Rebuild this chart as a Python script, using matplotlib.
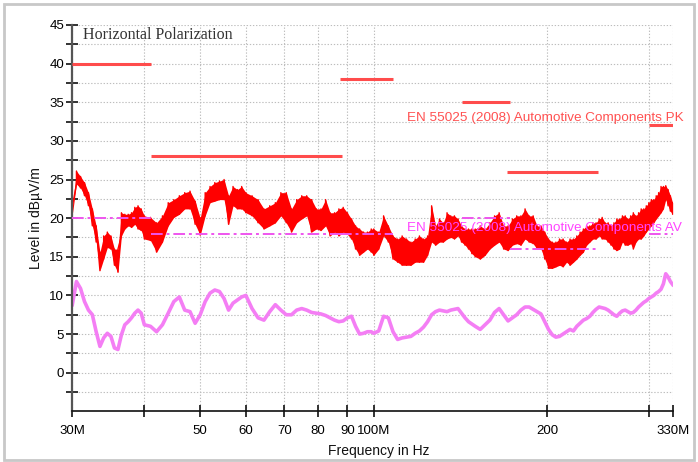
import matplotlib
matplotlib.use("Agg")
import matplotlib.pyplot as plt
from matplotlib.patches import Rectangle
from matplotlib.ticker import FixedLocator, NullLocator

# ---- measurement sweep (MHz) ----
freq_mhz = [30, 30.5, 31, 31.5, 32, 32.5, 33, 33.5, 34, 34.5, 35, 35.5, 36, 36.5, 37, 37.5,
            38, 38.5, 39, 39.5, 40,
            41, 42, 43, 44, 45, 46, 47, 48, 49, 50, 51, 52, 53, 54, 55, 56, 57, 58, 59, 60,
            61.5, 63, 64.5, 66, 67.5, 69, 70.5, 72, 73.5, 75, 76.5, 78, 79.5, 81, 82.5, 84,
            85.5, 87, 88.5, 90, 91.5, 93, 94.5, 96, 97.5, 99,
            100, 102, 104, 106, 108, 110, 112, 114, 116, 118, 120, 122, 124,
            126, 128, 130, 132, 134, 136, 138, 140, 142, 144, 146, 148, 150,
            153, 156, 159, 162, 165, 168, 171, 174, 177, 180, 183, 186, 189, 192, 195, 198, 201,
            204, 207, 210, 213, 216, 219, 222, 225, 228, 231, 234, 237, 240, 243, 246, 249,
            252, 255, 258, 261, 264, 267, 270, 273, 276, 279, 282, 285, 288, 291, 294, 297,
            300, 303, 306, 309, 312, 315, 318, 321, 324, 327, 330]

# peak detector: lower / upper edge of the trace (dBuV/m)
pk_low = [20.5, 24.4, 23.9, 22.9, 21.6, 19.0, 16.9, 13.2, 14.7, 16.2, 16.0, 13.9, 13.0, 17.7, 18.6, 19.0,
          18.8, 19.2, 18.6, 18.4, 17.3,
          17.1, 15.6, 16.9, 19.0, 20.1, 20.5, 21.2, 21.2, 19.2, 17.8, 20.3, 22.0, 22.2, 22.4, 22.4, 19.2,
          21.6, 21.2, 21.2, 20.7,
          20.3, 19.4, 18.6, 19.0, 19.4, 20.3, 19.4, 18.2, 19.4, 19.9, 20.3, 18.2, 18.6, 18.4, 19.0, 17.7,
          18.2, 17.7, 18.2, 17.9, 17.3, 16.0, 15.2, 15.6, 16.0, 15.6,
          15.2, 16.0, 17.7, 16.9, 14.7, 14.3, 13.9, 13.9, 13.9, 14.3, 14.3, 14.3, 15.2,
          16.9, 16.5, 16.9, 16.9, 17.3, 17.5, 17.3, 17.7, 16.9, 16.5, 16.0, 15.4, 15.0,
          14.7, 15.2, 16.0, 16.5, 16.9, 16.0, 15.8, 16.5, 16.7, 16.5, 17.3, 16.9, 16.7, 16.0, 16.0, 14.7, 13.5,
          13.5, 13.7, 13.9, 13.7, 14.3, 13.9, 14.3, 14.7, 15.2, 15.6, 16.5, 16.9, 17.3, 17.3, 17.7, 17.3,
          17.3, 16.9, 16.5, 16.0, 15.8, 16.0, 16.9, 16.5, 16.5, 16.7, 16.0, 16.9, 17.3, 17.3, 17.7, 18.2,
          18.6, 19.0, 19.4, 19.9, 20.3, 20.7, 21.2, 22.4, 21.6, 20.9, 20.5]
pk_high = [21.5, 26.1, 25.4, 24.6, 23.3, 21.2, 19.0, 15.6, 17.7, 18.2, 17.7, 16.0, 16.0, 20.7, 20.5, 20.5,
           20.7, 21.4, 21.6, 21.2, 20.3,
           20.1, 19.4, 20.3, 22.0, 22.4, 22.9, 23.3, 23.5, 22.2, 20.0, 23.3, 24.1, 24.6, 24.8, 25.0, 22.9,
           24.1, 23.7, 24.1, 23.3,
           22.9, 22.4, 21.2, 21.6, 22.0, 23.3, 23.3, 21.2, 22.4, 22.9, 22.9, 22.4, 21.2, 21.2, 22.4, 20.7,
           20.7, 21.2, 21.4, 20.7, 19.9, 19.0, 18.6, 18.2, 18.2, 18.6,
           18.6, 18.2, 20.3, 19.0, 17.7, 17.3, 17.7, 17.3, 16.9, 17.3, 17.7, 17.3, 17.7,
           21.6, 19.0, 19.9, 19.4, 20.7, 20.3, 20.3, 19.9, 19.0, 18.6, 18.6, 18.6, 18.6,
           19.0, 18.6, 19.4, 20.3, 20.7, 19.0, 19.0, 19.9, 20.3, 20.3, 21.2, 20.3, 20.3, 19.0, 19.0, 18.2, 17.3,
           16.9, 16.9, 17.3, 17.3, 16.9, 17.3, 17.3, 17.7, 18.2, 18.6, 19.0, 19.0, 19.4, 19.4, 19.9, 20.1,
           19.4, 19.4, 19.0, 19.4, 19.9, 19.9, 20.3, 20.3, 19.9, 20.3, 20.7, 20.3, 20.7, 21.2, 21.2, 21.6,
           22.0, 22.4, 22.4, 22.9, 23.3, 24.1, 24.1, 24.2, 23.7, 22.9, 22.0]

# average detector trace (dBuV/m)
av_level = [8.8, 11.8, 10.9, 9.2, 8.1, 7.5, 5.3, 3.4, 4.5, 5.1, 4.7, 3.2, 3.0, 4.9, 6.2, 6.6,
            7.1, 7.7, 8.1, 7.7, 6.2,
            6.0, 5.3, 6.2, 7.7, 9.2, 9.8, 8.1, 7.9, 6.4, 7.5, 9.2, 10.3, 10.7, 10.5, 9.6, 8.1,
            9.0, 9.4, 9.8, 10.0,
            8.3, 7.1, 6.8, 7.9, 8.8, 8.1, 7.5, 7.5, 8.1, 8.3, 8.1, 7.8, 7.7, 7.6, 7.4, 7.1,
            6.8, 6.6, 6.7, 7.1, 7.3, 6.0, 5.0, 5.1, 5.3, 5.3,
            5.1, 5.4, 7.3, 7.1, 5.3, 4.3, 4.5, 4.6, 4.7, 5.1, 5.4, 5.9, 6.6,
            7.5, 7.9, 8.1, 8.0, 7.9, 8.1, 8.2, 8.3, 7.7, 7.1, 6.6, 6.3, 6.0,
            5.6, 6.2, 6.8, 7.8, 8.3, 7.5, 6.7, 7.1, 7.5, 8.1, 8.5, 8.5, 8.2, 7.9, 7.6, 6.6, 5.6,
            4.9, 4.6, 4.7, 5.0, 5.3, 5.6, 5.4, 6.0, 6.4, 6.8, 7.0, 7.3, 7.8, 8.2, 8.5, 8.4,
            8.3, 8.1, 7.8, 7.5, 7.3, 7.7, 8.0, 8.1, 7.9, 7.7, 7.8, 8.1, 8.5, 8.8, 9.1, 9.3,
            9.6, 9.8, 10.0, 10.3, 10.5, 10.8, 11.5, 12.8, 12.4, 11.8, 11.4]

# EN 55025 (2008) limit bands: start / stop (MHz) and level (dBuV/m)
pk_start = [30, 41, 87.5, 142, 170, 300]
pk_stop = [41, 88, 108, 172, 245, 330]
pk_limit = [40, 28, 38, 35, 26, 32]

av_start = [30, 41, 87.5, 142, 172, 300]
av_stop = [41, 88, 108, 172, 245, 330]
av_limit = [20, 18, 18, 20, 16, 18]

x_ticks = [30, 40, 50, 60, 70, 80, 90, 100, 200, 300, 330]
x_tick_labels = ["30M", "", "50", "60", "70", "80", "90", "100M", "200", "", "330M"]
y_major = [0, 5, 10, 15, 20, 25, 30, 35, 40, 45]
y_minor = [-2.5, 2.5, 7.5, 12.5, 17.5, 22.5, 27.5, 32.5, 37.5, 42.5]

SANS = "Liberation Sans"
SERIF = "Liberation Serif"

fig = plt.figure(figsize=(6.98, 4.62), dpi=100)
ax = fig.add_axes([0.1036, 0.1097, 0.8601, 0.8362])
ax.set_xscale("log")
ax.set_xlim(30, 330)
ax.set_ylim(-5, 45)

# grid
ax.xaxis.set_major_locator(FixedLocator(x_ticks))
ax.xaxis.set_minor_locator(NullLocator())
ax.set_xticklabels(x_tick_labels)
ax.yaxis.set_major_locator(FixedLocator(y_major))
ax.yaxis.set_minor_locator(FixedLocator(y_minor))
grid_kw = dict(color="#bdbdbd", linestyle=(0, (1.2, 1.6)), linewidth=0.8)
ax.grid(True, which="both", axis="y", **grid_kw)
ax.grid(True, which="major", axis="x", **grid_kw)
ax.set_axisbelow(True)

for s in ("top", "right"):
    ax.spines[s].set_visible(False)
ax.spines["left"].set_color("#555555")
ax.spines["left"].set_linewidth(1.6)
ax.spines["bottom"].set_color("#111111")
ax.spines["bottom"].set_linewidth(1.2)
ax.tick_params(axis="y", which="both", direction="inout", length=8, width=1.4,
               color="#333333", labelsize=9.5, pad=2)
ax.tick_params(axis="x", which="both", direction="inout", length=8, width=1.2,
               color="#111111", labelsize=9.5, pad=6)
for lab in ax.get_xticklabels() + ax.get_yticklabels():
    lab.set_fontfamily(SANS)

# peak trace: band between lower / upper edge plus a jagged outline
ax.fill_between(freq_mhz, pk_low, pk_high, color="#ff0000", linewidth=0, zorder=2)
zig_x, zig_y = [], []
for f, lo, hi in zip(freq_mhz, pk_low, pk_high):
    zig_x += [f, f]
    zig_y += [lo, hi]
ax.plot(zig_x, zig_y, color="#ff0000", linewidth=1.0, zorder=2)

# average trace
ax.plot(freq_mhz, av_level, color="#f47ef4", linewidth=2.6, zorder=2)

# limit lines
for a, b, v in zip(pk_start, pk_stop, pk_limit):
    ax.plot([a, b], [v, v], color="#ff4c4c", linewidth=2.2, solid_capstyle="butt", zorder=3)
for a, b, v in zip(av_start, av_stop, av_limit):
    ax.plot([a, b], [v, v], color="#ee55ee", linewidth=1.4,
            linestyle=(0, (6, 2, 1.5, 2)), zorder=3)

ax.text(114.2, 32.9, "EN 55025 (2008) Automotive Components PK", color="#ff5050",
        fontsize=9.7, family=SANS, va="center", ha="left", zorder=5, clip_on=False)
ax.text(114.2, 18.75, "EN 55025 (2008) Automotive Components AV", color="#ff44ff",
        fontsize=9.7, family=SANS, va="center", ha="left", zorder=5, clip_on=False)

ax.text(31.3, 43.7, "Horizontal Polarization", color="#333333", fontsize=11.5,
        family=SERIF, va="center", ha="left", zorder=5)

ax.set_xlabel("Frequency in Hz", fontsize=10, family=SANS, color="#111111")
ax.xaxis.set_label_coords(0.511, -0.085)
ax.set_ylabel("Level in dB\u00b5V/m", fontsize=10, family=SANS, color="#111111")
ax.yaxis.set_label_coords(-0.049, 0.5)

# figure frame
fig.patches.append(Rectangle((0.006, 0.004), 0.988, 0.988, transform=fig.transFigure,
                             fill=False, edgecolor="#c8c8c8", linewidth=2))

fig.savefig("out.png", dpi=100)
